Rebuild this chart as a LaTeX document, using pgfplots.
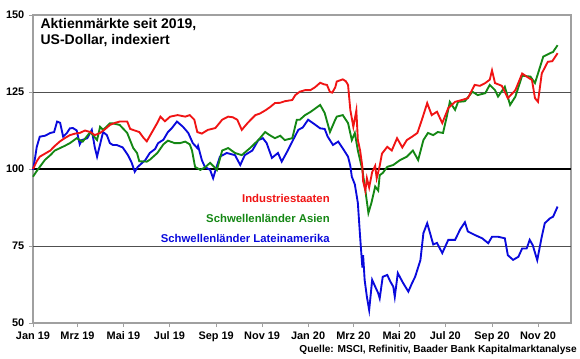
\documentclass[border=0pt]{standalone}
\usepackage{pgfplots}
\pgfplotsset{compat=1.18}
\usepackage{fontspec}
\setmainfont{Liberation Sans}
\definecolor{cred}{RGB}{240,20,20}
\definecolor{cgreen}{RGB}{20,135,20}
\definecolor{cblue}{RGB}{10,10,220}
\definecolor{cgrid}{RGB}{80,80,80}
\definecolor{caxis}{RGB}{160,160,160}
\begin{document}
\begin{tikzpicture}
\begin{axis}[
  scale only axis,
  width=403.5pt, height=231pt,
  xmin=0, xmax=713.8, ymin=50, ymax=150,
  xtick={0,59,120,181,243,304,365,425,486,547,609,670},
  xticklabels={Jan 19,Mrz 19,Mai 19,Jul 19,Sep 19,Nov 19,Jan 20,Mrz 20,Mai 20,Jul 20,Sep 20,Nov 20},
  ytick={50,75,100,125,150},
  tick align=outside, tick pos=left,
  major tick length=3pt,
  tick style={caxis, line width=0.6pt},
  axis line style={caxis, line width=0.8pt},
  /pgf/number format/assume math mode=true,
  tick label style={font=\bfseries\fontsize{8.2}{9}\selectfont, black},
  clip=false,
]
\addplot[cgrid, line width=0.6pt, forget plot] coordinates {(0,75) (713.8,75)};
\addplot[cgrid, line width=0.6pt, forget plot] coordinates {(0,125) (713.8,125)};
\addplot[black, line width=1.4pt, forget plot] coordinates {(0,100) (713.8,100)};

% Schwellenlaender Lateinamerika
\addplot[cblue, line width=1.4pt] coordinates {
(0,99.7) (3,104) (5,107.2) (9,110.5) (16,110.8) (23,111.7) (28,112) (32,115.4) (36,115)
(40,110.5) (45,111.7) (49,113.2) (53,113.3) (58,112.5) (62,108) (65,109.4) (72,110)
(78,112.7) (82,107) (85,104) (89,108) (93,112) (98,111) (102,108.4) (106,107.8) (111,107.8)
(119,107) (126,104.5) (131,102) (135,99.1) (139,100.7) (149,102.9) (155,105.2) (162,106.5)
(166,108.4) (173,109.5) (179,112) (184,113.2) (191,115.4) (199,113.7) (206,111.7) (212,108.4)
(218,106.8) (219,107.5) (224,102.9) (228,100.7) (235,99.7) (239,97) (243,100.3) (248,104)
(257,105.2) (268,104.5) (275,101.3) (281,104.5) (291,106) (299,109.4) (305,110) (310,108.4)
(317,103.6) (325,105.2) (330,102.4) (338,106) (345,109.4) (352,112.7) (358,113.5) (365,116)
(372,114.8) (381,113.2) (387,113) (391,110.5) (398,107.8) (405,108.9) (411,106.7) (418,104)
(421,101) (423,97.5) (427,95) (431,89) (434,78) (437,68) (438,72) (440,64) (443,58.5)
(446,54.2) (450,64) (454,61.8) (458,59.7) (460,58) (464,65) (470,65.6) (474,63.5) (478,61.8)
(480,58.5) (484,66.2) (491,63) (498,60.2) (503,63) (507,65) (514,70.4) (518,79.2) (523,82.4)
(527,79) (531,75.5) (536,76) (543,72.7) (551,77) (560,77) (567,80.5) (573,82.7) (577,79.7)
(586,78.6) (596,77.5) (604,75.9) (609,78) (617,78) (626,77.5) (630,72) (637,70.5) (644,71.5)
(649,74.2) (655,74.2) (659,77) (663,75.3) (669,70.4) (675,78) (679,82.4) (686,84) (690,84.5)
(696,87.8)
};

% Schwellenlaender Asien
\addplot[cgreen, line width=1.4pt] coordinates {
(0,97.5) (4,99) (9,100.7) (16,103) (23,104.5) (29,106) (36,106.8) (42,107.5) (49,108.4)
(58,110) (66,108.9) (76,112) (85,109.4) (89,113.7) (93,112.7) (102,114.8) (106,114.8)
(115,114.3) (125,111.7) (133,106.8) (138,105.2) (141,102.5) (151,102.4) (155,103) (165,105.2)
(173,108) (179,109.2) (188,108.4) (195,108.4) (202,108.9) (208,108) (211,106) (215,100.7)
(222,99.7) (228,100.5) (235,102) (242,100.3) (244,99.7) (251,106) (259,106.8) (268,105.2)
(277,104.5) (288,106.8) (299,109.4) (308,112) (314,111) (321,110) (328,110.8) (334,109.4)
(344,110) (350,116) (354,116) (361,117.5) (368,118.5) (372,119.2) (381,120.8) (387,118.2)
(394,112) (401,116) (403,117) (411,117.5) (418,114.9) (423,109.4) (427,111.7) (431,106)
(437,99.7) (441,93) (445,85.7) (449,89) (454,94.3) (458,93) (460,98) (464,98.7) (470,100.7)
(478,101.3) (487,102.9) (496,104) (504,106) (511,102.9) (518,109.4) (524,111.7) (531,111)
(537,112) (544,111.7) (549,117) (553,121.8) (560,119.2) (564,121.8) (573,122) (583,125.1)
(590,124) (600,124.6) (606,127.3) (613,125.6) (617,123.5) (626,126.7) (633,120.8) (640,123.5)
(649,130.3) (660,130) (666,127.9) (670,131) (677,136.5) (686,137.6) (690,138) (696,140.2)
};

% Industriestaaten
\addplot[cred, line width=1.4pt] coordinates {
(0,100) (5,102.5) (9,104) (16,105) (23,106) (29,107.5) (36,109) (42,110) (49,111) (56,111.5)
(62,111.7) (69,112.5) (76,112) (82,111) (89,111.7) (96,113) (102,114.3) (109,115) (115,115.4)
(125,115.4) (129,113) (135,112.5) (141,112) (147,110) (151,109) (158,112) (165,115) (169,117)
(175,115.5) (182,117) (192,117.5) (202,117) (208,117.5) (214,116) (218,112) (224,111.5)
(232,112.7) (242,113.3) (251,116) (259,117) (265,116.8) (271,116) (277,112.7) (285,115)
(295,117.5) (301,118) (308,119) (314,120) (321,121.4) (328,121.5) (334,122) (344,122.4)
(348,124) (354,125.1) (361,125.6) (368,125.6) (374,126.5) (381,128) (386,127.5) (390,127.3)
(394,125) (397,124.8) (401,126.5) (403,128.4) (411,129.1) (415,128.5) (418,127.3) (421,119.2)
(425,113.7) (429,119) (431,109.4) (434,106) (437,100.7) (438,96) (441,93) (443,97) (446,94)
(450,99) (454,101) (456,97) (460,101) (463,105) (470,107.2) (476,106) (483,110) (490,107)
(496,109.4) (503,110.5) (510,111.7) (516,116) (523,121.4) (529,117.5) (536,118.6) (543,114.9)
(551,119.8) (560,121.8) (569,122.4) (577,123) (586,127.3) (593,127) (600,127.9) (606,129)
(609,132) (613,127.9) (622,127) (630,123) (640,125.6) (649,131) (655,130) (662,128.9)
(666,123) (670,121.8) (675,131) (683,134.8) (689,135) (696,137.6)
};

\node[anchor=north west, align=left, inner sep=0pt, font=\bfseries\fontsize{10.5}{12}\selectfont]
  at ([xshift=5.5pt,yshift=-2pt]rel axis cs:0,1) {Aktienmärkte seit 2019,\\US-Dollar, indexiert};
\node[anchor=east, inner sep=0pt, text=cred, font=\bfseries\fontsize{8.5}{10}\selectfont] at (axis cs:394,90.3) {Industriestaaten};
\node[anchor=east, inner sep=0pt, text=cgreen, font=\bfseries\fontsize{8.5}{10}\selectfont] at (axis cs:394,83.8) {Schwellenländer Asien};
\node[anchor=east, inner sep=0pt, text=cblue, font=\bfseries\fontsize{8.5}{10}\selectfont] at (axis cs:394,77.3) {Schwellenländer Lateinamerika};
\node[anchor=north east, inner sep=0pt, font=\bfseries\fontsize{7.6}{9}\selectfont]
  at ([xshift=4.5pt,yshift=-16.5pt]rel axis cs:1,0) {Quelle: MSCI, Refinitiv, Baader Bank Kapitalmarktanalyse};
\end{axis}
\pgfresetboundingbox
\useasboundingbox (-24.75pt,-27pt) rectangle (410.25pt,242.25pt);
\end{tikzpicture}
\end{document}
